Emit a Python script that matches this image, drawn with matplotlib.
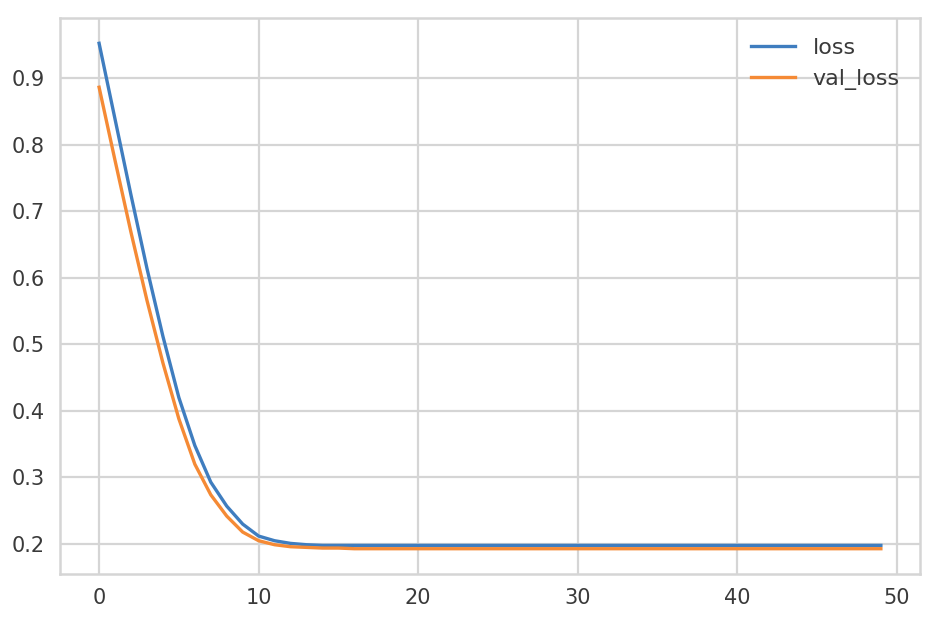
import matplotlib
matplotlib.use("Agg")
import matplotlib.pyplot as plt
import numpy as np

# training history
epochs = list(range(50))
loss = [0.952, 0.838, 0.724, 0.614, 0.512, 0.420, 0.348, 0.293, 0.257, 0.230,
        0.212, 0.205, 0.201, 0.199, 0.198, 0.198, 0.198, 0.198, 0.198, 0.198,
        0.198, 0.198, 0.198, 0.198, 0.198, 0.198, 0.198, 0.198, 0.198, 0.198,
        0.198, 0.198, 0.198, 0.198, 0.198, 0.198, 0.198, 0.198, 0.198, 0.198,
        0.198, 0.198, 0.198, 0.198, 0.198, 0.198, 0.198, 0.198, 0.198, 0.198]
val_loss = [0.886, 0.776, 0.668, 0.566, 0.472, 0.388, 0.320, 0.274, 0.242, 0.218,
            0.205, 0.199, 0.196, 0.195, 0.194, 0.194, 0.193, 0.193, 0.193, 0.193,
            0.193, 0.193, 0.193, 0.193, 0.193, 0.193, 0.193, 0.193, 0.193, 0.193,
            0.193, 0.193, 0.193, 0.193, 0.193, 0.193, 0.193, 0.193, 0.193, 0.193,
            0.193, 0.193, 0.193, 0.193, 0.193, 0.193, 0.193, 0.193, 0.193, 0.193]

plt.rcParams['font.family'] = ['DejaVu Sans']

fig = plt.figure(figsize=(9.42, 6.28), dpi=100)
ax = fig.add_axes([0.0637, 0.086, 0.9129, 0.8853])

ax.plot(epochs, loss, color="#3f7dbf", linewidth=2.4, label="loss")
ax.plot(epochs, val_loss, color="#f58a35", linewidth=2.4, label="val_loss")

ax.set_xticks([0, 10, 20, 30, 40, 50])
ax.set_yticks([0.2, 0.3, 0.4, 0.5, 0.6, 0.7, 0.8, 0.9])
ax.grid(True, color="#d5d5d5", linewidth=1.6)
ax.set_axisbelow(True)
for s in ax.spines.values():
    s.set_color("#d5d5d5")
    s.set_linewidth(1.8)
ax.tick_params(length=0, labelsize=15, labelcolor="#3a3a3a")
ax.tick_params(axis="y", pad=11)
ax.tick_params(axis="x", pad=10)

ax.legend(loc="upper right", frameon=False, fontsize=16, handlelength=2.0,
          labelcolor="#3a3a3a")

plt.savefig("out.png", dpi=100)
